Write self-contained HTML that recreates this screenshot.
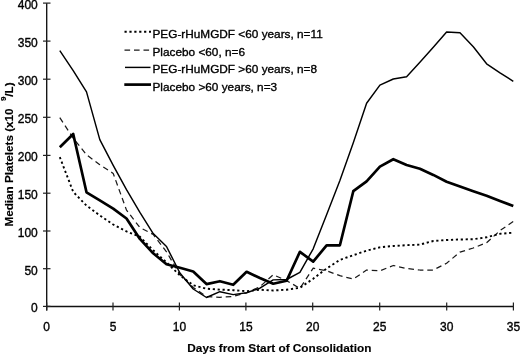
<!DOCTYPE html>
<html><head><meta charset="utf-8"><style>
html,body{margin:0;padding:0;background:#fff;}
svg{display:block;filter:grayscale(1);}
text{font-family:"Liberation Sans",sans-serif;fill:#000;stroke:#000;stroke-width:0.35px;}
</style></head><body>
<svg width="520" height="355" viewBox="0 0 520 355">
<rect width="520" height="355" fill="#fff"/>
<g stroke="#111" stroke-width="1.35" fill="none">
<line x1="46.7" y1="3.2" x2="46.7" y2="310.6"/>
<line x1="46" y1="306.5" x2="513.3" y2="306.5"/>
</g>
<g stroke="#222" stroke-width="1.2" fill="none">
<line x1="43" y1="306.4" x2="50.5" y2="306.4"/><line x1="43" y1="268.7" x2="50.5" y2="268.7"/><line x1="43" y1="231.0" x2="50.5" y2="231.0"/><line x1="43" y1="193.2" x2="50.5" y2="193.2"/><line x1="43" y1="155.4" x2="50.5" y2="155.4"/><line x1="43" y1="117.3" x2="50.5" y2="117.3"/><line x1="43" y1="79.2" x2="50.5" y2="79.2"/><line x1="43" y1="41.1" x2="50.5" y2="41.1"/><line x1="43" y1="3.1" x2="50.5" y2="3.1"/>
<line x1="46.7" y1="302.5" x2="46.7" y2="310.5"/><line x1="113.0" y1="302.5" x2="113.0" y2="310.5"/><line x1="179.4" y1="302.5" x2="179.4" y2="310.5"/><line x1="245.9" y1="302.5" x2="245.9" y2="310.5"/><line x1="312.7" y1="302.5" x2="312.7" y2="310.5"/><line x1="379.7" y1="302.5" x2="379.7" y2="310.5"/><line x1="446.7" y1="302.5" x2="446.7" y2="310.5"/><line x1="513.4" y1="302.5" x2="513.4" y2="310.5"/>
</g>
<g font-size="12"><text x="37.8" y="312.4" text-anchor="end">0</text><text x="37.8" y="274.7" text-anchor="end">50</text><text x="37.8" y="237.0" text-anchor="end">100</text><text x="37.8" y="199.2" text-anchor="end">150</text><text x="37.8" y="161.4" text-anchor="end">200</text><text x="37.8" y="123.3" text-anchor="end">250</text><text x="37.8" y="85.2" text-anchor="end">300</text><text x="37.8" y="47.1" text-anchor="end">350</text><text x="37.8" y="9.1" text-anchor="end">400</text><text x="46.70" y="331" text-anchor="middle">0</text><text x="113.00" y="331" text-anchor="middle">5</text><text x="179.45" y="331" text-anchor="middle">10</text><text x="245.90" y="331" text-anchor="middle">15</text><text x="312.70" y="331" text-anchor="middle">20</text><text x="379.70" y="331" text-anchor="middle">25</text><text x="446.70" y="331" text-anchor="middle">30</text><text x="513.40" y="331" text-anchor="middle">35</text></g>
<text x="187.3" y="351.7" font-size="11.8" font-weight="bold" style="stroke-width:0.15px">Days from Start of Consolidation</text>
<text id="ylab" style="stroke-width:0.15px" transform="translate(12.7,226.6) rotate(-90)" font-size="11.7" font-weight="bold">Median Platelets (x10 <tspan font-size="8" dx="4" dy="-6.5">9</tspan><tspan dy="6.5">/L)</tspan></text>
<g fill="none" stroke-linejoin="round">
<polyline points="59.8,117.7 73.2,138.1 86.5,154.8 99.8,164.7 113.2,173.4 126.5,210.1 139.9,227.6 153.2,234.4 166.5,251.8 179.9,274.6 193.2,287.4 206.5,296.5 219.9,297.3 233.2,296.5 246.6,292.8 259.9,286.7 273.2,274.8 286.6,280.6 299.9,288.4 313.2,268.2 326.6,270.8 339.9,275.7 353.3,279.1 366.6,270.0 379.9,270.8 393.3,265.5 406.6,268.5 419.9,270.0 433.3,270.0 446.6,263.2 460.0,252.1 473.3,248.0 486.6,242.7 500.0,230.6 513.3,221.5" stroke="#1a1a1a" stroke-width="1.25" stroke-dasharray="5.6 3.9"/>
<polyline points="59.8,157.1 73.2,191.9 86.5,205.6 99.8,215.4 113.2,224.5 126.5,231.4 139.9,236.7 153.2,250.3 166.5,262.4 179.9,275.3 193.2,285.2 206.5,288.7 219.9,289.6 233.2,290.2 246.6,291.2 259.9,289.7 273.2,290.5 286.6,289.7 299.9,287.8 313.2,278.7 326.6,268.5 339.9,259.9 353.3,255.2 366.6,250.7 379.9,247.3 393.3,246.0 406.6,245.2 419.9,244.6 433.3,241.0 446.6,240.0 460.0,239.5 473.3,239.2 486.6,237.3 500.0,233.8 513.3,232.7" stroke="#000" stroke-width="1.9" stroke-dasharray="2.2 2.7"/>
<polyline points="59.8,50.6 73.2,70.7 86.5,91.9 99.8,139.6 113.2,165.4 126.5,189.7 139.9,212.4 153.2,233.6 166.5,246.5 179.9,273.0 193.2,289.0 206.5,297.5 219.9,291.7 233.2,294.6 246.6,292.8 259.9,288.2 273.2,279.9 286.6,279.5 299.9,272.3 313.2,248.8 326.6,214.7 339.9,180.6 353.3,142.7 366.6,103.3 379.9,85.1 393.3,79.0 406.6,76.7 419.9,62.3 433.3,47.2 446.6,32.0 460.0,32.8 473.3,46.8 486.6,63.8 500.0,72.9 513.3,81.3" stroke="#000" stroke-width="1.45"/>
<polyline points="59.8,147.2 73.2,134.0 86.5,192.3 99.8,200.3 113.2,208.6 126.5,218.5 139.9,238.9 153.2,253.3 166.5,264.2 179.9,267.7 193.2,271.5 206.5,284.1 219.9,281.2 233.2,284.8 246.6,271.8 259.9,278.0 273.2,283.7 286.6,280.8 299.9,251.8 313.2,261.7 326.6,245.3 339.9,245.3 353.3,191.2 366.6,181.3 379.9,166.6 393.3,159.2 406.6,165.0 419.9,168.8 433.3,174.9 446.6,181.7 460.0,186.6 473.3,191.2 486.6,195.7 500.0,201.0 513.3,206.0" stroke="#000" stroke-width="2.7"/>
</g>
<g fill="none">
<line x1="124.5" y1="31.8" x2="151" y2="31.8" stroke="#000" stroke-width="1.9" stroke-dasharray="2.2 2.7"/>
<line x1="124.5" y1="50.1" x2="150" y2="50.1" stroke="#1a1a1a" stroke-width="1.25" stroke-dasharray="5.6 3.9"/>
<line x1="125" y1="67.4" x2="150.5" y2="67.4" stroke="#000" stroke-width="1.45"/>
<line x1="124.3" y1="84.6" x2="151" y2="84.6" stroke="#000" stroke-width="2.7"/>
</g>
<g font-size="11.8">
<text x="152.5" y="37.7">PEG-rHuMGDF &lt;60 years, n=11</text>
<text x="152.5" y="56">Placebo &lt;60, n=6</text>
<text x="152.5" y="73">PEG-rHuMGDF &gt;60 years, n=8</text>
<text x="152.5" y="91">Placebo &gt;60 years, n=3</text>
</g>
</svg>
</body></html>
